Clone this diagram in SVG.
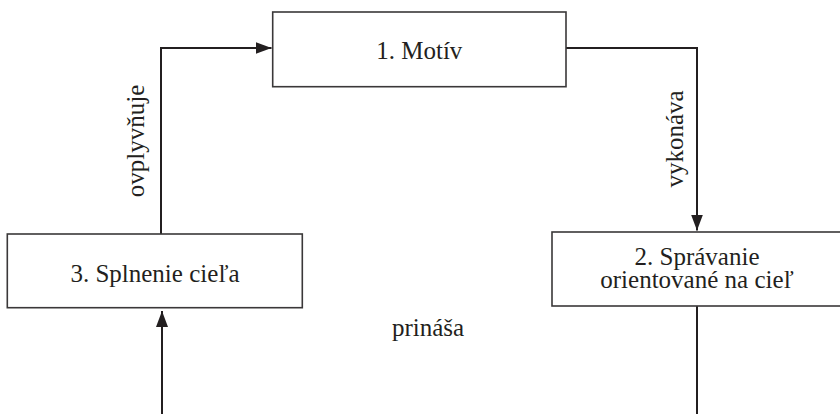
<svg xmlns="http://www.w3.org/2000/svg" width="840" height="414" viewBox="0 0 840 414">
  <style>
    .box { fill: #ffffff; stroke: #3a3839; stroke-width: 1.6; }
    .lbl { font-size: 25px; fill: #231f20; text-anchor: middle; }
    .wire { fill: none; stroke: #231f20; stroke-width: 2; }
  </style>
  <defs>
    <marker id="head" viewBox="0 0 16 12" refX="16" refY="6" markerWidth="16" markerHeight="12" markerUnits="userSpaceOnUse" orient="auto">
      <path d="M0,0 L16,6 L0,12 Z" fill="#231f20"/>
    </marker>
  </defs>
  <rect width="840" height="414" fill="#ffffff"/>

  <g font-family="Liberation Serif, serif">
  <g id="connectors">
    <!-- 3 -> 1 -->
    <path class="wire" d="M161,234 V48 H271.5" marker-end="url(#head)"/>
    <!-- 1 -> 2 -->
    <path class="wire" d="M566,48 H697 V230.5" marker-end="url(#head)"/>
    <!-- 2 -> 3, running below the visible area -->
    <path class="wire" d="M697,306 V414"/>
    <path class="wire" d="M162,414 V311" marker-end="url(#head)"/>
    <text class="lbl" transform="translate(144,141) rotate(-90)">ovplyvňuje</text>
    <text class="lbl" transform="translate(683,139) rotate(-90)">vykonáva</text>
    <text class="lbl" x="428" y="336">prináša</text>
  </g>

  <g id="motiv">
    <rect class="box" x="272.7" y="12" width="293.3" height="74.7"/>
    <text class="lbl" x="419.3" y="59">1. Motív</text>
  </g>

  <g id="spravanie">
    <rect class="box" x="552" y="232" width="292" height="74"/>
    <text class="lbl" x="697" y="265">2. Správanie</text>
    <text class="lbl" x="697" y="288">orientované na cieľ</text>
  </g>

  <g id="splnenie">
    <rect class="box" x="7.3" y="234" width="295" height="73.7"/>
    <text class="lbl" x="155" y="282">3. Splnenie cieľa</text>
  </g>
  </g>
</svg>
